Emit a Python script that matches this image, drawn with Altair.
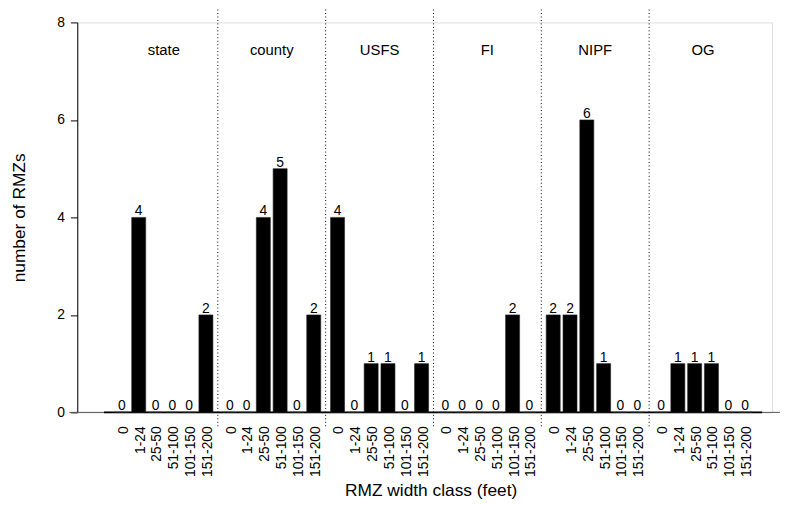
import altair as alt
import pandas as pd

groups = ["state", "county", "USFS", "FI", "NIPF", "OG"]
classes = ["0", "1-24", "25-50", "51-100", "101-150", "151-200"]
state = [0, 4, 0, 0, 0, 2]
county = [0, 0, 4, 5, 0, 2]
usfs = [4, 0, 1, 1, 0, 1]
fi = [0, 0, 0, 0, 2, 0]
nipf = [2, 2, 6, 1, 0, 0]
og = [0, 1, 1, 1, 0, 0]
series = [state, county, usfs, fi, nipf, og]

rows = []
for g, grp in enumerate(groups):
    for i, cls in enumerate(classes):
        rows.append({"group": grp, "g": g, "cls": cls, "i": i, "n": series[g][i]})
df = pd.DataFrame(rows)
gdf = pd.DataFrame({"group": groups, "g": list(range(len(groups)))})

GROUP_STEP = 7.7
BAR_STEP = 1.2
BAR_W = 1.0
OFFSET = 0.2
FONT = "Liberation Sans"

xs = alt.Scale(domain=[-2.486, 47.13], nice=False, zero=False)
ys = alt.Scale(domain=[0, 8], nice=False, zero=True)

base = alt.Chart(df).transform_calculate(
    left=f"datum.g*{GROUP_STEP} + datum.i*{BAR_STEP} + {OFFSET}"
).transform_calculate(
    right=f"datum.left + {BAR_W}"
).transform_calculate(
    mid=f"datum.left + {BAR_W / 2}"
)

bars = base.mark_rect(color="black", stroke="#222", strokeWidth=0.6).encode(
    x=alt.X("left:Q", scale=xs,
            axis=alt.Axis(title="RMZ width class (feet)", labels=False, ticks=False,
                          domain=False, grid=False, titleX=357, titleY=79,
                          titleFontSize=17.5, titleFontWeight="normal", titleColor="black",
                          titleFont=FONT, titleBaseline="middle")),
    x2="right:Q",
    y=alt.Y("n:Q", scale=ys,
            axis=alt.Axis(values=[0, 2, 4, 6, 8], tickSize=7, labelPadding=6,
                          labelFontSize=14, labelColor="black", labelFont=FONT,
                          domainColor="black", tickColor="black", grid=False,
                          title="number of RMZs", titleFontSize=17.5,
                          titleFontWeight="normal", titleColor="black", titleFont=FONT,
                          titleX=-58, titleY=197, titleAngle=270,
                          titleBaseline="middle", titleAlign="center")),
    y2=alt.datum(0),
)

values = base.mark_text(baseline="alphabetic", dy=-2, fontSize=14, font=FONT,
                        color="black").encode(
    x=alt.X("mid:Q", scale=xs), y=alt.Y("n:Q", scale=ys), text="n:Q")

ticklabels = base.mark_text(angle=270, align="right", baseline="middle", dy=2,
                            fontSize=14, font=FONT, color="black").encode(
    x=alt.X("mid:Q", scale=xs), y=alt.value(408), text="cls:N")

gbase = alt.Chart(gdf)
glabels = gbase.transform_calculate(
    mid=f"datum.g*{GROUP_STEP} + {OFFSET} + {(len(classes) * BAR_STEP - (BAR_STEP - BAR_W)) / 2}"
).mark_text(fontSize=15, font=FONT, color="black", baseline="middle").encode(
    x=alt.X("mid:Q", scale=xs), y=alt.value(28), text="group:N")

seps = gbase.transform_filter(f"datum.g < {len(groups) - 1}").transform_calculate(
    sx=f"datum.g*{GROUP_STEP} + {OFFSET} + {len(classes) * BAR_STEP - (BAR_STEP - BAR_W)} + {(GROUP_STEP - len(classes) * BAR_STEP + (BAR_STEP - BAR_W)) / 2}"
).mark_rule(color="black", strokeDash=[1, 2.5], strokeWidth=1).encode(
    x=alt.X("sx:Q", scale=xs), y=alt.value(-13), y2=alt.value(408))

thin = alt.Chart(gdf.head(1)).mark_rule(color="#555", strokeWidth=1).encode(
    x=alt.value(-8), x2=alt.value(710), y=alt.datum(0))

thick = base.transform_aggregate(
    lo="min(left)", hi="max(right)"
).transform_calculate(
    lo2="datum.lo - 0.78", hi2="datum.hi + 0.72"
).mark_rule(color="black", strokeWidth=2).encode(
    x=alt.X("lo2:Q", scale=xs), x2="hi2:Q", y=alt.datum(0))

chart = alt.layer(seps, thin, thick, bars, values, ticklabels, glabels).properties(
    width=702, height=394,
    autosize=alt.AutoSizeParams(type="none"),
    padding={"left": 70, "top": 12, "right": 8, "bottom": 91},
).configure_view(stroke=None).configure(font=FONT)

chart.save("out.html", embed_options={"renderer": "svg", "actions": False})
